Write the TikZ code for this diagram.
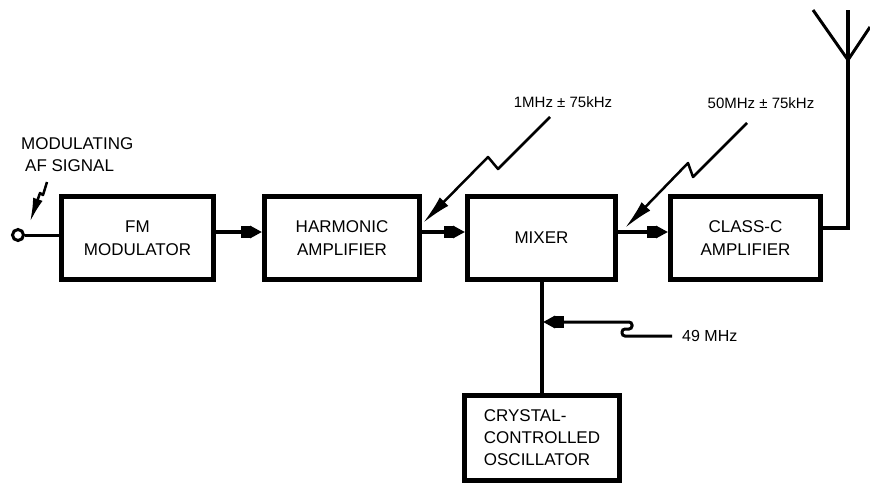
\documentclass[tikz,border=0pt]{standalone}
\usepackage{fontspec}
\setmainfont{Liberation Sans}
\usetikzlibrary{arrows.meta}

\begin{document}
\begin{tikzpicture}[x=1pt, y=-1pt,
  box/.style={draw, line width=5pt, minimum width=152pt, minimum height=83pt,
              align=center, inner sep=0pt, font=\fontsize{17}{23}\selectfont},
  arr/.style={line width=3.5pt,
              -{Rectangle[length=9pt,width=12pt]Triangle[length=12pt,width=12pt]}},
  zap/.style={line width=2.5pt, line join=round, -{Latex[length=30pt,width=12pt]}},
  lbl/.style={font=\fontsize{15}{18}\selectfont, inner sep=0pt}
]
  \useasboundingbox (0,0) rectangle (870,485);
  \node[box] (fm) at (137.5,238) {FM\\MODULATOR};
  \node[box, minimum width=155pt] (harm) at (342,238) {HARMONIC\\AMPLIFIER};
  \node[box, minimum width=148pt] (mix) at (541.5,238) {MIXER};
  \node[box, minimum width=150pt] (cls) at (745.5,238) {CLASS-C\\AMPLIFIER};
  \node[box, minimum width=155pt, minimum height=85pt, align=left,
        font=\fontsize{17}{22}\selectfont] (osc) at (542,438)
        {CRYSTAL-\\CONTROLLED\\OSCILLATOR};
  \node[circle, draw, line width=3pt, minimum size=11pt, inner sep=0pt,
        fill=white] (src) at (18,235) {};
  \node[font=\fontsize{17}{22}\selectfont, align=left, anchor=north west,
        inner sep=0pt] (af) at (21,137) {MODULATING\\\hspace*{4pt}AF SIGNAL};
  \node[lbl] (f1) at (563,102) {1MHz ± 75kHz};
  \node[lbl] (f2) at (761,103) {50MHz ± 75kHz};
  \node[lbl, font=\fontsize{16}{18}\selectfont, anchor=west] (lo) at (682,336) {49 MHz};
  % signal path
  \draw[line width=3pt] (src) -- (src -| fm.west);
  \draw[arr] ([yshift=6pt]fm.east) -- ([yshift=6pt]harm.west);
  \draw[arr] ([yshift=6pt]harm.east) -- ([yshift=6pt]mix.west);
  \draw[arr] ([yshift=6pt]mix.east) -- ([yshift=6pt]cls.west);
  \draw[line width=4pt] (mix.south) -- (mix.south |- osc.north);
  % antenna
  \coordinate (ant) at (848,60);
  \coordinate (anttop) at (848,10);
  \coordinate (antl) at (813,10);
  \coordinate (antr) at (870,27);
  \draw[line width=3.5pt] ([yshift=10pt]cls.east) -| (ant) -- (anttop);
  \draw[line width=3pt] (antl) -- (ant) -- (antr);
  % injected signals
  \coordinate (z1) at (550,117);
  \coordinate (z2) at (747,123);
  \coordinate (z3) at (47,182);
  \coordinate (tap) at (543,322);
  \draw[zap] (z1) -- (498,169) -- (488,157) -- (423,223);
  \draw[zap] (z2) -- (693,177) -- (688,163) -- (625,228);
  \draw[zap, -{Latex[length=24pt,width=10pt]}] (z3) -- (43,195) -- (40,193) -- (30,222);
  \draw[arr, line width=3pt, rounded corners=3pt] ([xshift=-10pt]lo.west)
    -- (622,336) -- (622,329) -- (632,329) -- (632,322) -- (tap);
\end{tikzpicture}
\end{document}
